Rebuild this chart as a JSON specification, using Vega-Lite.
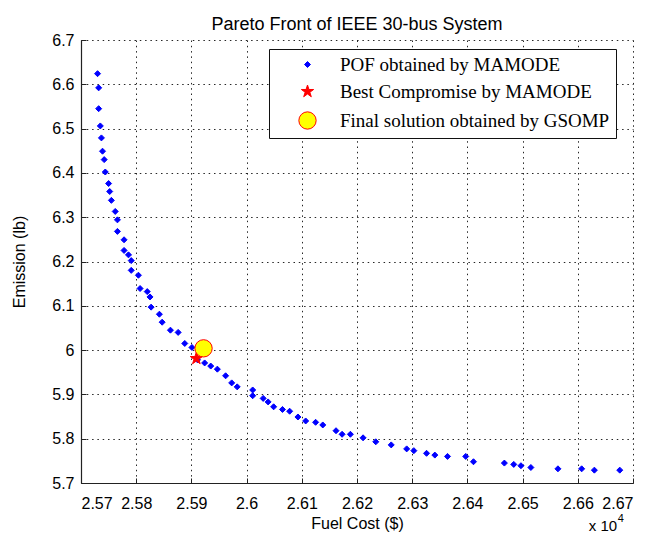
{
  "$schema": "https://vega.github.io/schema/vega-lite/v6.json",
  "width": 552,
  "height": 443,
  "autosize": "none",
  "padding": {"left": 81, "top": 40, "right": 31, "bottom": 60},
  "background": "white",
  "config": {
    "font": "Liberation Sans",
    "view": {"stroke": null},
    "axis": {
      "domainColor": "#222",
      "domainWidth": 1.2,
      "tickColor": "#222",
      "tickSize": -5,
      "tickWidth": 1,
      "labelColor": "#000",
      "labelFontSize": 16,
      "labelFont": "Liberation Sans",
      "titleFont": "Liberation Sans",
      "titleFontSize": 16,
      "titleFontWeight": "normal",
      "titleColor": "#000",
      "grid": true,
      "gridColor": "#000",
      "gridOpacity": 0.85,
      "gridDash": [1.5, 3.8],
      "gridWidth": 1
    },
    "title": {"font": "Liberation Sans", "fontSize": 18, "fontWeight": "normal", "color": "#000"}
  },
  "title": {"text": "Pareto Front of IEEE 30-bus System", "offset": -2},
  "layer": [
    {
      "data": {
        "values": [
          {"fuel": 25730, "emission": 6.624, "series": "POF obtained by MAMODE"},
          {"fuel": 25732, "emission": 6.592, "series": "POF obtained by MAMODE"},
          {"fuel": 25732, "emission": 6.545, "series": "POF obtained by MAMODE"},
          {"fuel": 25735, "emission": 6.506, "series": "POF obtained by MAMODE"},
          {"fuel": 25737, "emission": 6.479, "series": "POF obtained by MAMODE"},
          {"fuel": 25739, "emission": 6.449, "series": "POF obtained by MAMODE"},
          {"fuel": 25742, "emission": 6.430, "series": "POF obtained by MAMODE"},
          {"fuel": 25744, "emission": 6.402, "series": "POF obtained by MAMODE"},
          {"fuel": 25750, "emission": 6.376, "series": "POF obtained by MAMODE"},
          {"fuel": 25752, "emission": 6.358, "series": "POF obtained by MAMODE"},
          {"fuel": 25755, "emission": 6.338, "series": "POF obtained by MAMODE"},
          {"fuel": 25762, "emission": 6.313, "series": "POF obtained by MAMODE"},
          {"fuel": 25766, "emission": 6.294, "series": "POF obtained by MAMODE"},
          {"fuel": 25766, "emission": 6.268, "series": "POF obtained by MAMODE"},
          {"fuel": 25778, "emission": 6.249, "series": "POF obtained by MAMODE"},
          {"fuel": 25778, "emission": 6.225, "series": "POF obtained by MAMODE"},
          {"fuel": 25786, "emission": 6.215, "series": "POF obtained by MAMODE"},
          {"fuel": 25791, "emission": 6.202, "series": "POF obtained by MAMODE"},
          {"fuel": 25791, "emission": 6.180, "series": "POF obtained by MAMODE"},
          {"fuel": 25804, "emission": 6.169, "series": "POF obtained by MAMODE"},
          {"fuel": 25807, "emission": 6.139, "series": "POF obtained by MAMODE"},
          {"fuel": 25820, "emission": 6.132, "series": "POF obtained by MAMODE"},
          {"fuel": 25825, "emission": 6.120, "series": "POF obtained by MAMODE"},
          {"fuel": 25827, "emission": 6.097, "series": "POF obtained by MAMODE"},
          {"fuel": 25842, "emission": 6.081, "series": "POF obtained by MAMODE"},
          {"fuel": 25847, "emission": 6.063, "series": "POF obtained by MAMODE"},
          {"fuel": 25862, "emission": 6.045, "series": "POF obtained by MAMODE"},
          {"fuel": 25876, "emission": 6.040, "series": "POF obtained by MAMODE"},
          {"fuel": 25888, "emission": 6.015, "series": "POF obtained by MAMODE"},
          {"fuel": 25901, "emission": 6.006, "series": "POF obtained by MAMODE"},
          {"fuel": 25911, "emission": 5.978, "series": "POF obtained by MAMODE"},
          {"fuel": 25924, "emission": 5.971, "series": "POF obtained by MAMODE"},
          {"fuel": 25935, "emission": 5.964, "series": "POF obtained by MAMODE"},
          {"fuel": 25947, "emission": 5.957, "series": "POF obtained by MAMODE"},
          {"fuel": 25962, "emission": 5.942, "series": "POF obtained by MAMODE"},
          {"fuel": 25973, "emission": 5.926, "series": "POF obtained by MAMODE"},
          {"fuel": 25983, "emission": 5.917, "series": "POF obtained by MAMODE"},
          {"fuel": 26011, "emission": 5.910, "series": "POF obtained by MAMODE"},
          {"fuel": 26011, "emission": 5.897, "series": "POF obtained by MAMODE"},
          {"fuel": 26030, "emission": 5.891, "series": "POF obtained by MAMODE"},
          {"fuel": 26039, "emission": 5.883, "series": "POF obtained by MAMODE"},
          {"fuel": 26049, "emission": 5.872, "series": "POF obtained by MAMODE"},
          {"fuel": 26065, "emission": 5.866, "series": "POF obtained by MAMODE"},
          {"fuel": 26078, "emission": 5.862, "series": "POF obtained by MAMODE"},
          {"fuel": 26093, "emission": 5.849, "series": "POF obtained by MAMODE"},
          {"fuel": 26107, "emission": 5.840, "series": "POF obtained by MAMODE"},
          {"fuel": 26125, "emission": 5.837, "series": "POF obtained by MAMODE"},
          {"fuel": 26138, "emission": 5.831, "series": "POF obtained by MAMODE"},
          {"fuel": 26162, "emission": 5.818, "series": "POF obtained by MAMODE"},
          {"fuel": 26173, "emission": 5.810, "series": "POF obtained by MAMODE"},
          {"fuel": 26188, "emission": 5.810, "series": "POF obtained by MAMODE"},
          {"fuel": 26211, "emission": 5.802, "series": "POF obtained by MAMODE"},
          {"fuel": 26234, "emission": 5.793, "series": "POF obtained by MAMODE"},
          {"fuel": 26262, "emission": 5.786, "series": "POF obtained by MAMODE"},
          {"fuel": 26290, "emission": 5.777, "series": "POF obtained by MAMODE"},
          {"fuel": 26303, "emission": 5.773, "series": "POF obtained by MAMODE"},
          {"fuel": 26326, "emission": 5.767, "series": "POF obtained by MAMODE"},
          {"fuel": 26341, "emission": 5.763, "series": "POF obtained by MAMODE"},
          {"fuel": 26364, "emission": 5.760, "series": "POF obtained by MAMODE"},
          {"fuel": 26397, "emission": 5.760, "series": "POF obtained by MAMODE"},
          {"fuel": 26411, "emission": 5.748, "series": "POF obtained by MAMODE"},
          {"fuel": 26467, "emission": 5.745, "series": "POF obtained by MAMODE"},
          {"fuel": 26484, "emission": 5.742, "series": "POF obtained by MAMODE"},
          {"fuel": 26497, "emission": 5.739, "series": "POF obtained by MAMODE"},
          {"fuel": 26515, "emission": 5.735, "series": "POF obtained by MAMODE"},
          {"fuel": 26564, "emission": 5.732, "series": "POF obtained by MAMODE"},
          {"fuel": 26607, "emission": 5.732, "series": "POF obtained by MAMODE"},
          {"fuel": 26630, "emission": 5.729, "series": "POF obtained by MAMODE"},
          {"fuel": 26676, "emission": 5.729, "series": "POF obtained by MAMODE"},
          {"fuel": 25909, "emission": 5.981, "series": "Best Compromise by MAMODE"},
          {"fuel": 25922, "emission": 6.004, "series": "Final solution obtained by GSOMP"}
        ]
      },
      "mark": {"type": "point", "opacity": 1, "strokeWidth": 1},
      "encoding": {
        "x": {
          "field": "fuel", "type": "quantitative",
          "scale": {"domain": [25700, 26700], "nice": false, "zero": false},
          "axis": {
            "title": "Fuel Cost ($)",
            "values": [25700, 25800, 25900, 26000, 26100, 26200, 26300, 26400, 26500, 26600, 26700],
            "labelExpr": "format(datum.value / 10000, '.2~f')",
            "labelPadding": 17,
            "titlePadding": 4
          }
        },
        "y": {
          "field": "emission", "type": "quantitative",
          "scale": {"domain": [5.7, 6.7], "nice": false, "zero": false},
          "axis": {
            "title": "Emission (lb)",
            "values": [5.7, 5.8, 5.9, 6.0, 6.1, 6.2, 6.3, 6.4, 6.5, 6.6, 6.7],
            "labelExpr": "format(datum.value, '.1~f')",
            "labelPadding": 12,
            "titlePadding": 24
          }
        },
        "shape": {
          "field": "series", "type": "nominal",
          "scale": {"domain": ["POF obtained by MAMODE", "Best Compromise by MAMODE", "Final solution obtained by GSOMP"], "range": ["diamond", "M0,-1L0.225,-0.309L0.951,-0.309L0.363,0.118L0.588,0.809L0,0.382L-0.588,0.809L-0.363,0.118L-0.951,-0.309L-0.225,-0.309Z", "circle"]},
          "legend": {
            "title": null,
            "orient": "none",
            "legendX": 188,
            "legendY": 9,
            "fillColor": "white",
            "strokeColor": "#111",
            "padding": 6,
            "symbolOffset": 23,
            "labelFont": "Liberation Serif",
            "labelFontSize": 19,
            "labelColor": "#000",
            "labelOffset": 23,
            "labelLimit": 500,
            "rowPadding": 7,
            "symbolStrokeWidth": 1
          }
        },
        "fill": {
          "field": "series", "type": "nominal",
          "scale": {"domain": ["POF obtained by MAMODE", "Best Compromise by MAMODE", "Final solution obtained by GSOMP"], "range": ["#0000ff", "#ff0000", "#ffff00"]},
          "legend": {"title": null}
        },
        "stroke": {
          "field": "series", "type": "nominal",
          "scale": {"domain": ["POF obtained by MAMODE", "Best Compromise by MAMODE", "Final solution obtained by GSOMP"], "range": ["#0000ff", "#ff0000", "#ff0000"]},
          "legend": {"title": null}
        },
        "size": {
          "field": "series", "type": "nominal",
          "scale": {"domain": ["POF obtained by MAMODE", "Best Compromise by MAMODE", "Final solution obtained by GSOMP"], "range": [36, 300, 90]},
          "legend": {"title": null}
        }
      }
    },
    {
      "data": {"values": [{}]},
      "mark": {"type": "text", "align": "left", "baseline": "middle", "fontSize": 15, "font": "Liberation Sans", "color": "#000", "dy": 43, "text": "x 10"},
      "encoding": {"x": {"datum": 26620}, "y": {"datum": 5.7}}
    },
    {
      "data": {"values": [{}]},
      "mark": {"type": "text", "align": "left", "baseline": "middle", "fontSize": 11, "font": "Liberation Sans", "color": "#000", "dx": 29, "dy": 36, "text": "4"},
      "encoding": {"x": {"datum": 26620}, "y": {"datum": 5.7}}
    }
  ]
}
